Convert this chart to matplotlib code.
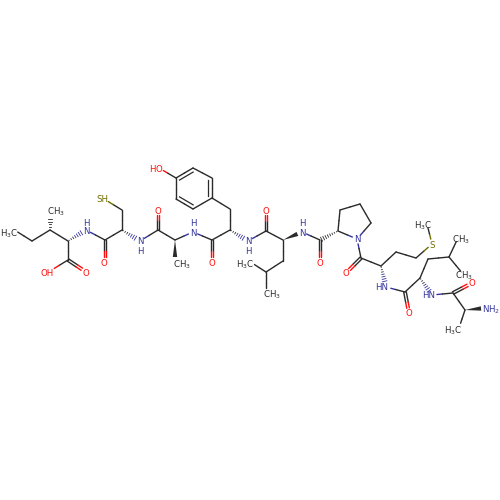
import numpy as np
import matplotlib
matplotlib.use("Agg")
import matplotlib.pyplot as plt
from matplotlib.patches import Polygon

plt.rcParams['font.family'] = ['DejaVu Sans']
plt.rcParams['mathtext.default'] = 'regular'

# atom positions, image pixels
atoms = {
    'c1': (16, 231), 'c2': (32, 241), 'c3': (50, 230), 'c4': (50, 212),
    'c5': (68, 241), 'c6': (68, 260), 'o1': (50, 271), 'o2': (86, 272),
    'n1': (86, 230), 'c7': (105, 240), 'o3': (105, 262), 'c8': (122, 230),
    'c9': (122, 210), 's1': (104, 199), 'n2': (140, 241), 'c10': (158, 230),
    'o4': (158, 210), 'c11': (175, 240), 'c12': (175, 262), 'n3': (193, 232),
    'c13': (212, 240), 'o5': (212, 262), 'c14': (230, 230), 'c15': (230, 209),
    'r1': (212, 198), 'r2': (193, 209), 'r3': (176, 199), 'r4': (176, 178),
    'r5': (193, 168), 'r6': (212, 178), 'o6': (159, 168), 'n4': (248, 241),
    'c16': (266, 231), 'o7': (266, 210), 'c17': (283, 240), 'n5': (302, 232),
    'c18': (283, 261), 'c19': (266, 272), 'c20': (252, 263), 'c21': (266, 293),
    'c22': (320, 240), 'o8': (320, 262), 'c23': (338, 231), 'c24': (340, 210),
    'c25': (360, 204), 'c26': (371, 223), 'n6': (357, 239), 'c27': (361, 258),
    'o9': (346, 273), 'c28': (381, 266), 'c29': (396, 252), 'c30': (416, 258),
    's2': (432, 244), 'c31': (427, 224), 'n7': (386, 287), 'c32': (405, 292),
    'o10': (409, 313), 'c33': (420, 278), 'c34': (428, 259), 'c35': (449, 257),
    'c36': (458, 238), 'c37': (463, 274), 'n8': (432, 295), 'c38': (453, 293),
    'o11': (472, 283), 'c39': (465, 310), 'c40': (459, 328), 'n9': (486, 308),
}

single_bonds = [
    ('c1', 'c2'), ('c2', 'c3'), ('c3', 'c5'), ('c5', 'c6'), ('c6', 'o1'),
    ('n1', 'c7'), ('c7', 'c8'), ('c8', 'c9'), ('c9', 's1'), ('n2', 'c10'),
    ('c10', 'c11'), ('c11', 'n3'), ('n3', 'c13'), ('c13', 'c14'), ('c14', 'c15'),
    ('c15', 'r1'), ('r4', 'o6'), ('n4', 'c16'), ('c16', 'c17'), ('c17', 'c18'),
    ('c18', 'c19'), ('c19', 'c20'), ('c19', 'c21'), ('n5', 'c22'), ('c23', 'c24'),
    ('c24', 'c25'), ('c25', 'c26'), ('c26', 'n6'), ('n6', 'c23'), ('n6', 'c27'),
    ('c27', 'c28'), ('c28', 'c29'), ('c29', 'c30'), ('c30', 's2'), ('s2', 'c31'),
    ('n7', 'c32'), ('c32', 'c33'), ('c33', 'c34'), ('c34', 'c35'), ('c35', 'c36'),
    ('c35', 'c37'), ('n8', 'c38'), ('c38', 'c39'), ('c39', 'c40'),
    ('r1', 'r2'), ('r3', 'r4'), ('r5', 'r6'),
]
carbonyl_bonds = [
    ('c6', 'o2'), ('c7', 'o3'), ('c10', 'o4'), ('c13', 'o5'), ('c16', 'o7'),
    ('c22', 'o8'), ('c27', 'o9'), ('c32', 'o10'), ('c38', 'o11'),
]
ring_double_bonds = [('r2', 'r3'), ('r4', 'r5'), ('r6', 'r1')]
wedge_bonds = [('c11', 'c12'), ('c17', 'n5'), ('c39', 'n9')]
hash_bonds = [
    ('c3', 'c4'), ('c5', 'n1'), ('c8', 'n2'), ('c14', 'n4'),
    ('c23', 'c22'), ('c28', 'n7'), ('c33', 'n8'),
]

# label text, centre x, centre y
label_text = ['H$_3$C', 'CH$_3$', 'OH', 'O', 'N', 'H', 'O', 'SH', 'N', 'H', 'O',
              'CH$_3$', 'N', 'H', 'O', 'O', 'H', 'N', 'H', 'O', 'N', 'H',
              'H$_3$C', 'CH$_3$', 'O', 'N', 'O', 'S', 'H$_3$C', 'HN', 'O',
              'CH$_3$', 'CH$_3$', 'HN', 'O', 'H$_3$C', 'NH$_2$']
label_x = [9, 56, 47, 86, 86, 86, 104, 102, 140, 140, 158,
           182, 193, 193, 212, 159, 152, 248, 248, 266, 302, 302,
           245, 272, 320, 357, 346, 432, 423, 382, 409,
           461, 464, 429, 472, 453, 491]
label_y = [232, 210, 272, 272, 230, 222, 262, 199, 241, 250, 210,
           263, 232, 222, 262, 168, 168, 241, 250, 210, 232, 222,
           263, 293, 262, 239, 273, 244, 224, 287, 313,
           238, 274, 295, 283, 329, 308]
label_colors = ['k', 'k', 'r', 'r', 'n', 'n', 'r', 's', 'n', 'n', 'r',
                'k', 'n', 'n', 'r', 'r', 'r', 'n', 'n', 'r', 'n', 'n',
                'k', 'k', 'r', 'n', 'r', 's', 'k', 'n', 'r',
                'k', 'k', 'n', 'r', 'k', 'n']

palette = {'k': '#2a2a2a', 'r': '#ff0d0d', 'n': '#34349c', 's': '#6e6e00'}
label_gap = {'c1': 2, 'c4': 5, 'c12': 5, 'c20': 3, 'c21': 5, 'c31': 4,
             'c36': 4, 'c37': 4, 'c40': 5}


def atom_color(name):
    if name.startswith('n'):
        return palette['n']
    if name.startswith('o'):
        return palette['r']
    if name.startswith('s'):
        return palette['s']
    return palette['k']


def gap(name):
    if name[0] in 'nos':
        return 5.0
    return label_gap.get(name, 0)


def trimmed(a, b):
    p = np.array(atoms[a], float)
    q = np.array(atoms[b], float)
    d = (q - p) / np.hypot(*(q - p))
    return p + d * gap(a), q - d * gap(b), d


def two_tone(ax, a, b, shift=(0, 0), lw=1.0):
    p, q, d = trimmed(a, b)
    p = p + shift
    q = q + shift
    m = (np.array(atoms[a], float) + np.array(atoms[b], float)) / 2 + shift
    ax.plot([p[0], m[0]], [p[1], m[1]], color=atom_color(a), lw=lw, solid_capstyle='round')
    ax.plot([m[0], q[0]], [m[1], q[1]], color=atom_color(b), lw=lw, solid_capstyle='round')


fig = plt.figure(figsize=(5, 5), dpi=100)
ax = fig.add_axes([0, 0, 1, 1])
ax.set_xlim(0, 500)
ax.set_ylim(500, 0)
ax.axis('off')

for a, b in single_bonds:
    two_tone(ax, a, b)

for a, b in carbonyl_bonds:
    d = np.array(atoms[b], float) - np.array(atoms[a], float)
    n = np.array([-d[1], d[0]]) / np.hypot(*d)
    two_tone(ax, a, b, shift=n * 1.3)
    two_tone(ax, a, b, shift=-n * 1.3)

ring_centre = np.mean([atoms[r] for r in ['r1', 'r2', 'r3', 'r4', 'r5', 'r6']], axis=0)
for a, b in ring_double_bonds:
    two_tone(ax, a, b)
    p = np.array(atoms[a], float)
    q = np.array(atoms[b], float)
    p2 = p + (ring_centre - p) * 0.2
    q2 = q + (ring_centre - q) * 0.2
    ax.plot([p2[0], q2[0]], [p2[1], q2[1]], color=palette['k'], lw=0.9)

for a, b in wedge_bonds:
    p, q, d = trimmed(a, b)
    n = np.array([-d[1], d[0]])
    ax.add_patch(Polygon([p, q + n * 2.2, q - n * 2.2], closed=True,
                         fc=palette['k'], ec='none'))

for a, b in hash_bonds:
    p, q, d = trimmed(a, b)
    n = np.array([-d[1], d[0]])
    length = np.hypot(*(q - p))
    for t in np.arange(0.08, 1.0, 2.4 / length):
        c = p + (q - p) * t
        w = 2.4 * t
        col = palette['k'] if t < 0.5 else atom_color(b)
        ax.plot([c[0] - n[0] * w, c[0] + n[0] * w], [c[1] - n[1] * w, c[1] + n[1] * w],
                color=col, lw=0.6)

for s, x, y, c in zip(label_text, label_x, label_y, label_colors):
    ax.text(x, y, s, color=palette[c], fontsize=6.2, ha='center', va='center_baseline')

fig.savefig('out.png', dpi=100, facecolor='white')
